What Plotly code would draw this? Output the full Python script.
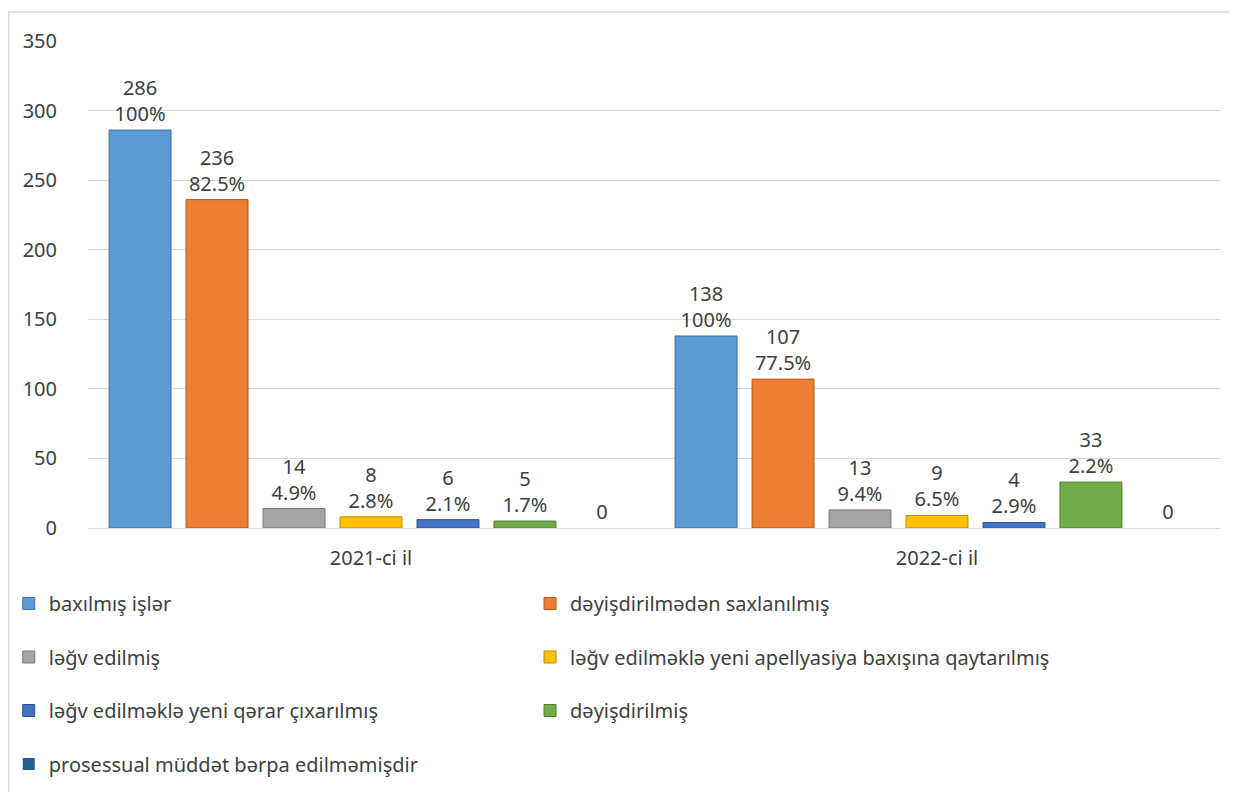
import plotly.graph_objects as go

categories = ["2021-ci il", "2022-ci il"]
series_names = [
    "baxılmış işlər",
    "dəyişdirilmədən saxlanılmış",
    "ləğv edilmiş",
    "ləğv edilməklə yeni apellyasiya baxışına qaytarılmış",
    "ləğv edilməklə yeni qərar çıxarılmış",
    "dəyişdirilmiş",
    "prosessual müddət bərpa edilməmişdir",
]
values = [
    [286, 138],
    [236, 107],
    [14, 13],
    [8, 9],
    [6, 4],
    [5, 33],
    [0, 0],
]
percents = [
    ["100%", "100%"],
    ["82.5%", "77.5%"],
    ["4.9%", "9.4%"],
    ["2.8%", "6.5%"],
    ["2.1%", "2.9%"],
    ["1.7%", "2.2%"],
    [None, None],
]
colors = ["#5B9BD5", "#ED7D31", "#A5A5A5", "#FFC000", "#4472C4", "#70AD47", "#255E91"]
lines = ["#41719C", "#AE5A21", "#787878", "#BC8C00", "#2F5597", "#507E32", "#1A4469"]
y_ticks = [0, 50, 100, 150, 200, 250, 300, 350]

FONT = "Noto Sans"
TXT = "#404040"
FS = 20

fig = go.Figure()
for i, name in enumerate(series_names):
    texts = []
    for v, p in zip(values[i], percents[i]):
        texts.append(f"{v}<br>{p}" if p else f"{v}")
    fig.add_trace(go.Bar(
        x=categories, y=values[i], name=name,
        marker=dict(color=colors[i],
                    line=dict(color=lines[i], width=0 if i == 6 else 1)),
        text=texts, textposition="outside", cliponaxis=False,
        textfont=dict(family=FONT, size=FS, color=TXT),
        legend="legend" if i % 2 == 0 else "legend2",
        legendgroup=f"g{i}",
    ))

leg_common = dict(
    orientation="v", yanchor="top", xanchor="left", tracegroupgap=24.5,
    font=dict(family=FONT, size=FS, color=TXT), bgcolor="rgba(0,0,0,0)",
    itemwidth=30, traceorder="grouped",
)
fig.update_layout(
    width=1230, height=784,
    margin=dict(l=80, r=18, t=33, b=264, autoexpand=False),
    paper_bgcolor="white", plot_bgcolor="white",
    barmode="group", bargap=0.048, bargroupgap=0.195,
    font=dict(family=FONT, size=FS, color=TXT),
    legend=dict(x=-0.0700, y=-0.115, **leg_common),
    legend2=dict(x=0.3905, y=-0.115, **leg_common),
    xaxis=dict(showgrid=False, showline=True, linecolor="#D9D9D9", linewidth=1,
               tickfont=dict(family=FONT, size=FS, color=TXT), ticks="",
               ticklabelstandoff=12),
    yaxis=dict(range=[0, 350], tickvals=y_ticks, showgrid=True, gridcolor="#D9D9D9",
               gridwidth=1, zeroline=False, showline=False, ticks="",
               ticklabelstandoff=30,
               tickfont=dict(family=FONT, size=FS, color=TXT)),
    shapes=[dict(type="rect", xref="paper", yref="paper",
                 x0=-0.0702, x1=1.03, y0=-0.6, y1=1.0595,
                 line=dict(color="#D9D9D9", width=1.5), fillcolor="rgba(0,0,0,0)", layer="below")],
)

fig.write_html("out.html")
